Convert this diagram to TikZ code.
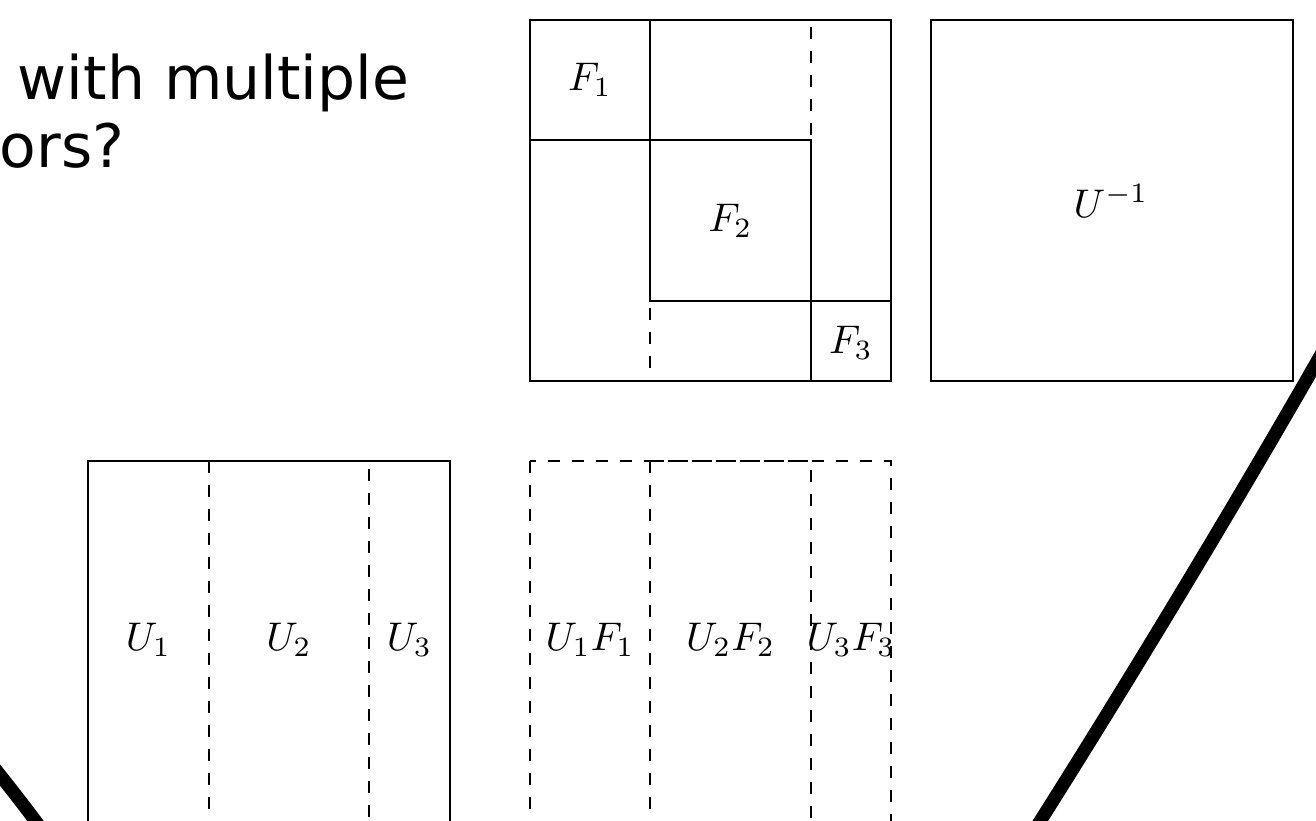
\documentclass[tikz,border=0pt]{standalone}
\usepackage{fontspec}
\newfontfamily\slidefont{DejaVu Sans}
\usepackage{xcolor}
\usepackage{tikz}
\usetikzlibrary{positioning,calc}
\definecolor{ink}{HTML}{000000}
\tikzset{
  blk/.style={draw=ink, line width=0.55pt},
  blkdash/.style={blk, dashed},
  lbl/.style={inner sep=0pt, text=ink},
  slidetext/.style={inner sep=0pt, anchor=base west, text=ink,
                    font=\slidefont\fontsize{15}{17}\selectfont},
  bigstroke/.style={draw=ink, line width=3.3pt},
}

\begin{document}
\begin{tikzpicture}[x=0.25pt, y=-0.25pt]
  \useasboundingbox (0,0) rectangle (1316,821);
  \clip (0,0) rectangle (1316,821);

  \node[slidetext] (qtop) at (17,100) { with multiple};
  \node[slidetext] (qbot) at (-1,168) {ors?};

  % block diagonal F
  \draw[blk] (530,20) rectangle (891,381);
  \draw[blkdash] (650,20) rectangle (811,381);
  \draw[blk] (530,20) rectangle (650,140);
  \draw[blk] (650,140) rectangle (811,301);
  \draw[blk] (811,301) rectangle (891,381);
  \node[lbl] (f1) at (590,80) {$F_1$};
  \node[lbl] (f2) at (730.5,220.5) {$F_2$};
  \node[lbl] (f3) at (851,343) {$F_3$};

  % inverse
  \draw[blk] (931,20) rectangle (1293,381);
  \node[lbl] (uinv) at (1111,201) {$U^{-1}$};

  % columns of U
  \draw[blk] (88,461) rectangle (450,823);
  \draw[blkdash] (209,461) rectangle (369,823);
  \node[lbl] (u1) at (148.5,640) {$U_1$};
  \node[lbl] (u2) at (289,640) {$U_2$};
  \node[lbl] (u3) at (409.5,640) {$U_3$};

  % columns of UF
  \draw[blkdash] (530,461) rectangle (891,823);
  \draw[blkdash] (650,461) rectangle (811,823);
  \node[lbl] (uf1) at (590,640) {$U_1F_1$};
  \node[lbl] (uf2) at (730.5,640) {$U_2F_2$};
  \node[lbl] (uf3) at (851,640) {$U_3F_3$};

  \coordinate (la) at (-20,750);
  \coordinate (lb) at (48,838);
  \coordinate (ra) at (1335,330);
  \coordinate (rb) at (1025,845);
  \draw[bigstroke] (la) .. controls (0,775) and (25,806) .. (lb);
  \draw[bigstroke] (ra) .. controls (1250,480) and (1130,680) .. (rb);
\end{tikzpicture}
\end{document}
